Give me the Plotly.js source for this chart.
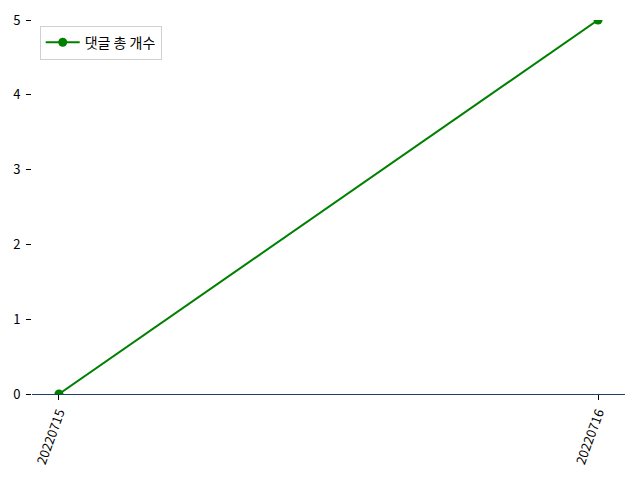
<!DOCTYPE html>
<html>
<head>
<meta charset="utf-8">
<script src="https://cdn.plot.ly/plotly-3.0.1.min.js"></script>
<style>body{margin:0;padding:0;background:#fff;}</style>
</head>
<body>
<div id="chart" style="width:640px;height:480px;"></div>
<script>
const dates = ["20220715", "20220716"];
const commentCounts = [0, 5];
const seriesName = "댓글 총 개수";

const trace = {
  x: [0, 1],
  y: commentCounts,
  type: "scatter",
  mode: "lines+markers",
  name: seriesName,
  line: {color: "green", width: 2},
  marker: {color: "green", size: 9},
  cliponaxis: true
};

const layout = {
  width: 640,
  height: 480,
  margin: {l: 32, r: 15, t: 20, b: 86},
  paper_bgcolor: "#fff",
  plot_bgcolor: "#fff",
  font: {family: "'Noto Sans CJK KR', 'Noto Sans', sans-serif", size: 13, color: "#000"},
  showlegend: true,
  legend: {
    x: 0.013, y: 0.985, xanchor: "left", yanchor: "top",
    bgcolor: "rgba(255,255,255,0.8)",
    bordercolor: "#d0d0d0", borderwidth: 1,
    itemwidth: 34,
    font: {size: 14}
  },
  xaxis: {
    range: [-0.05, 1.05],
    tickvals: [0, 1],
    ticktext: dates,
    tickangle: -70,
    showgrid: false,
    zeroline: false,
    showline: true,
    linecolor: "#1f3f66",
    linewidth: 1,
    ticks: "outside",
    ticklen: 5,
    tickcolor: "#000",
    tickfont: {size: 13}
  },
  yaxis: {
    range: [0, 5],
    tickvals: [0, 1, 2, 3, 4, 5],
    showgrid: false,
    zeroline: false,
    showline: false,
    ticks: "outside",
    ticklen: 5,
    tickcolor: "#000",
    ticklabelstandoff: 3,
    tickfont: {size: 13}
  }
};

Plotly.newPlot("chart", [trace], layout, {displayModeBar: false});
</script>
</body>
</html>
